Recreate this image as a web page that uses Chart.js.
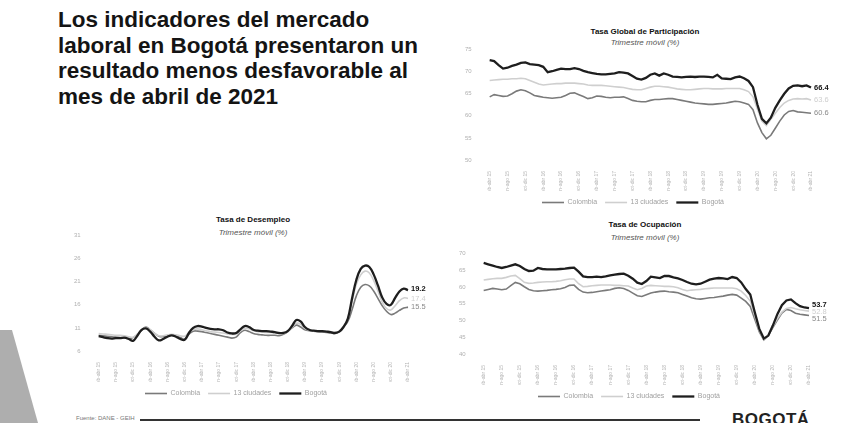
<!DOCTYPE html>
<html lang="es">
<head>
<meta charset="utf-8">
<title>Mercado laboral Bogotá</title>
<script src="https://cdn.jsdelivr.net/npm/chart.js@4.4.1/dist/chart.umd.min.js"></script>
<style>
  html, body { margin: 0; padding: 0; background: #fff; }
  #page { position: relative; width: 841px; height: 423px; overflow: hidden; background: #fff;
          font-family: "Liberation Sans", Arial, sans-serif; }
  #headline { position: absolute; left: 58px; top: 7px; font-size: 22.5px; font-weight: bold;
              line-height: 25.7px; color: #141414; }
  .ctitle { position: absolute; width: 300px; text-align: center; font-size: 8px; font-weight: bold; color: #111; }
  .csub { position: absolute; width: 300px; text-align: center; font-size: 8px; font-style: italic; color: #555; }
  canvas { position: absolute; }
  #band { position: absolute; left: 0; top: 330px; width: 40px; height: 93px; background: #9a9a9a;
          clip-path: polygon(0 0, 12px 0, 38px 93px, 0 93px); opacity: 0.8; }
  #footline { position: absolute; left: 140px; top: 419px; width: 560px; height: 2px; background: #333; }
  #source { position: absolute; left: 76px; top: 415px; font-size: 6px; color: #777; }
  #logo { position: absolute; left: 732px; top: 410px; font-size: 17px; font-weight: bold; color: #222; letter-spacing: 0.5px; }
</style>
</head>
<body>
<div id="page">
  <div id="headline">Los indicadores del mercado<br>laboral en Bogotá presentaron un<br>resultado menos desfavorable al<br>mes de abril de 2021</div>

  <div class="ctitle" style="left:495px; top:27px;">Tasa Global de Participación</div>
  <div class="csub" style="left:495px; top:38px;">Trimestre móvil (%)</div>
  <canvas id="chartTGP" width="386" height="180" style="left:455px; top:36px;"></canvas>

  <div class="ctitle" style="left:103px; top:215px;">Tasa de Desempleo</div>
  <div class="csub" style="left:103px; top:228px;">Trimestre móvil (%)</div>
  <canvas id="chartTD" width="372" height="185" style="left:64px; top:222px;"></canvas>

  <div class="ctitle" style="left:495px; top:220px;">Tasa de Ocupación</div>
  <div class="csub" style="left:495px; top:233px;">Trimestre móvil (%)</div>
  <canvas id="chartTO" width="392" height="170" style="left:449px; top:240px;"></canvas>

  <div id="band"></div>
  <div id="source">Fuente: DANE - GEIH</div>
  <div id="footline"></div>
  <div id="logo">BOGOTÁ</div>
</div>

<script>
// Trimestres móviles, feb-abr 2015 ... feb-abr 2021
const trimestres = [
  'feb-abr 15','mar-may 15','abr-jun 15','may-jul 15','jun-ago 15','jul-sep 15','ago-oct 15','sep-nov 15','oct-dic 15','nov-ene 16','dic-feb 16','ene-mar 16',
  'feb-abr 16','mar-may 16','abr-jun 16','may-jul 16','jun-ago 16','jul-sep 16','ago-oct 16','sep-nov 16','oct-dic 16','nov-ene 17','dic-feb 17','ene-mar 17',
  'feb-abr 17','mar-may 17','abr-jun 17','may-jul 17','jun-ago 17','jul-sep 17','ago-oct 17','sep-nov 17','oct-dic 17','nov-ene 18','dic-feb 18','ene-mar 18',
  'feb-abr 18','mar-may 18','abr-jun 18','may-jul 18','jun-ago 18','jul-sep 18','ago-oct 18','sep-nov 18','oct-dic 18','nov-ene 19','dic-feb 19','ene-mar 19',
  'feb-abr 19','mar-may 19','abr-jun 19','may-jul 19','jun-ago 19','jul-sep 19','ago-oct 19','sep-nov 19','oct-dic 19','nov-ene 20','dic-feb 20','ene-mar 20',
  'feb-abr 20','mar-may 20','abr-jun 20','may-jul 20','jun-ago 20','jul-sep 20','ago-oct 20','sep-nov 20','oct-dic 20','nov-ene 21','dic-feb 21','ene-mar 21',
  'feb-abr 21'
];
const seriesNames = ['Colombia', '13 ciudades', 'Bogotá'];

// Tasa Global de Participación (%)
const tgpColombia = [
  64.3,64.8,64.6,64.4,64.5,65.0,65.6,65.9,65.7,65.2,64.6,64.4,
  64.2,64.1,64.0,64.1,64.2,64.6,65.1,65.2,64.8,64.4,63.9,64.1,
  64.5,64.4,64.2,64.1,64.2,64.2,64.3,63.9,63.5,63.3,63.2,63.2,
  63.5,63.7,63.7,63.8,63.9,63.9,63.7,63.5,63.3,63.1,62.9,62.8,
  62.7,62.6,62.6,62.7,62.8,62.9,63.1,63.3,63.2,62.9,62.6,61.4,
  58.4,56.2,54.8,55.6,57.2,58.8,60.2,61.0,61.2,60.9,60.8,60.7,
  60.6
];
const tgp13Ciudades = [
  68.0,68.1,68.2,68.3,68.3,68.4,68.4,68.5,68.4,68.0,67.6,67.2,
  67.0,67.1,67.2,67.3,67.3,67.4,67.4,67.4,67.3,67.2,67.0,66.9,
  66.9,66.9,66.8,66.7,66.6,66.5,66.4,66.2,66.0,65.9,65.9,66.2,
  66.5,66.7,66.7,66.6,66.5,66.3,66.1,66.0,65.9,65.9,66.0,66.1,
  66.2,66.2,66.1,66.1,66.1,66.2,66.2,66.2,66.2,65.9,65.5,64.3,
  61.5,58.8,57.8,59.2,60.6,61.9,62.9,63.5,63.8,63.9,63.8,63.9,
  63.6
];
const tgpBogota = [
  72.6,72.4,71.5,70.7,70.9,71.3,71.6,72.0,72.1,71.7,71.6,71.5,
  71.1,69.9,70.1,70.4,70.7,70.6,70.6,70.8,70.6,70.2,69.9,69.7,
  69.5,69.4,69.4,69.5,69.6,69.9,69.8,69.6,69.0,68.4,68.2,68.6,
  69.3,69.6,69.1,69.6,69.3,68.9,68.8,68.7,68.8,68.9,68.8,68.9,
  68.9,68.8,68.7,69.3,68.5,68.4,68.3,68.7,68.9,68.5,67.9,66.5,
  62.5,59.3,58.3,59.6,61.8,63.5,65.0,66.2,66.8,66.9,66.7,66.9,
  66.4
];

// Tasa de Desempleo (%)
const tdColombia = [
  9.4,9.3,9.2,9.1,9.0,8.9,8.8,8.7,8.9,9.6,10.5,11.2,
  10.6,9.8,9.2,9.1,9.3,9.4,9.2,8.9,8.6,9.6,10.3,10.3,
  10.2,10.0,9.8,9.6,9.4,9.2,9.0,8.8,9.0,10.0,10.5,10.2,
  9.8,9.6,9.5,9.4,9.4,9.4,9.3,9.6,10.2,11.0,11.6,11.2,
  10.6,10.4,10.3,10.2,10.1,10.0,9.9,9.8,10.2,11.2,12.4,15.0,
  18.0,19.8,20.4,20.1,19.0,17.4,15.8,14.6,13.9,14.2,14.8,15.3,
  15.5
];
const td13Ciudades = [
  9.8,9.7,9.6,9.5,9.4,9.4,9.3,9.1,9.0,9.6,10.6,11.1,
  10.6,9.8,9.3,9.3,9.5,9.6,9.5,9.3,9.2,10.0,10.6,10.8,
  10.6,10.4,10.2,10.1,10.0,9.9,9.7,9.6,9.7,10.4,10.9,10.8,
  10.4,10.2,10.1,10.0,10.0,9.9,9.8,9.8,10.2,11.1,12.0,11.8,
  10.9,10.5,10.3,10.3,10.3,10.2,10.1,10.0,10.3,11.3,13.0,16.8,
  20.5,22.5,23.3,22.9,21.3,19.0,16.6,15.2,14.9,15.8,16.9,17.5,
  17.4
];
const tdBogota = [
  9.2,9.0,8.8,8.7,8.8,8.8,8.9,8.6,8.2,9.3,10.6,10.9,
  10.2,9.1,8.3,8.6,9.1,9.4,9.1,8.6,8.4,9.9,11.0,11.4,
  11.3,11.0,10.8,10.7,10.7,10.5,10.0,9.8,9.9,10.7,11.4,11.2,
  10.6,10.4,10.3,10.3,10.2,10.1,9.9,9.9,10.3,11.4,12.7,12.4,
  11.2,10.6,10.4,10.3,10.3,10.2,10.1,9.9,10.2,11.2,13.0,17.5,
  21.5,23.8,24.5,24.2,22.6,20.2,17.6,16.2,16.0,17.5,18.9,19.5,
  19.2
];

// Tasa de Ocupación (%)
const toColombia = [
  59.0,59.3,59.6,59.4,59.2,59.4,60.4,61.4,61.0,60.1,59.3,58.9,
  58.8,58.9,59.0,59.2,59.3,59.5,59.9,60.5,60.6,59.3,58.5,58.3,
  58.4,58.6,58.8,59.0,59.2,59.6,59.8,59.6,59.0,58.2,57.4,57.2,
  57.7,58.2,58.5,58.7,58.8,58.6,58.5,58.3,57.8,57.3,56.8,56.5,
  56.4,56.6,56.8,56.9,57.1,57.3,57.6,57.8,57.6,56.7,55.7,54.2,
  50.4,46.6,44.2,45.5,47.9,50.1,52.2,53.3,53.0,52.2,51.9,51.7,
  51.5
];
const to13Ciudades = [
  62.1,62.3,62.5,62.6,62.6,62.9,63.3,63.5,62.5,61.4,61.1,61.2,
  61.4,61.5,61.6,61.6,61.7,61.9,62.2,62.4,62.4,61.0,60.1,60.2,
  60.4,60.5,60.6,60.6,60.6,60.5,60.5,60.4,60.3,59.7,59.2,59.6,
  60.3,60.5,60.4,60.3,60.2,60.2,60.1,59.8,59.3,58.9,59.1,59.2,
  59.3,59.5,59.6,59.7,59.7,59.7,59.7,59.7,59.5,58.8,57.5,55.8,
  51.5,47.0,44.3,45.6,48.2,50.6,52.5,53.6,53.9,53.5,53.2,53.0,
  52.8
];
const toBogota = [
  67.2,66.8,66.4,66.0,65.7,66.0,66.4,66.8,66.3,65.4,64.8,64.9,
  65.7,65.4,65.3,65.3,65.3,65.4,65.5,65.7,65.8,64.6,63.2,63.0,
  63.0,63.1,63.0,63.2,63.5,63.7,63.9,64.0,63.4,62.5,61.3,60.9,
  61.8,63.1,62.9,62.7,63.3,63.3,62.9,62.6,62.1,61.5,61.0,60.8,
  61.0,61.6,62.2,62.5,62.7,62.6,62.4,63.0,62.7,61.4,59.4,57.8,
  52.5,47.5,44.6,45.5,48.5,51.9,54.6,56.0,56.3,55.2,54.3,53.9,
  53.7
];

// draws the last value to the right of each line
const endLabels = {
  id: 'endLabels',
  afterDatasetsDraw(chart) {
    const ctx = chart.ctx;
    ctx.save();
    chart.data.datasets.forEach((ds, i) => {
      const meta = chart.getDatasetMeta(i);
      const pt = meta.data[meta.data.length - 1];
      if (!pt) return;
      ctx.font = (ds.labelBold ? 'bold ' : '') + ds.labelSize + 'px "Liberation Sans", Arial, sans-serif';
      ctx.fillStyle = ds.labelColor;
      ctx.textBaseline = 'middle';
      ctx.fillText(ds.data[ds.data.length - 1].toFixed(1), pt.x + 3, pt.y + (ds.labelShift || 0));
    });
    ctx.restore();
  }
};

function makeChart(id, values, yMin, yMax, tension, padRight, labelShifts) {
  const colors = ['#7a7a7a', '#cfcfcf', '#1e1e1e'];
  const widths = [1.6, 1.6, 2.3];
  const datasets = values.map((v, i) => ({
    label: seriesNames[i],
    data: v,
    borderColor: colors[i],
    backgroundColor: colors[i],
    borderWidth: widths[i],
    pointRadius: 0,
    tension: tension,
    order: 2 - i,
    labelColor: i === 2 ? '#111' : (i === 1 ? '#cfcfcf' : '#8a8a8a'),
    labelBold: i === 2,
    labelSize: 7.5,
    labelShift: labelShifts[i]
  }));
  return new Chart(document.getElementById(id), {
    type: 'line',
    data: { labels: trimestres, datasets: datasets },
    options: {
      responsive: false,
      animation: false,
      layout: { padding: { top: 0, right: padRight, left: 0, bottom: 0 } },
      plugins: {
        title: { display: false },
        tooltip: { enabled: false },
        legend: {
          position: 'bottom',
          labels: {
            usePointStyle: true,
            pointStyle: 'line',
            pointStyleWidth: 22,
            boxHeight: 2,
            padding: 8,
            color: '#a0a0a0',
            font: { family: '"Liberation Sans", Arial, sans-serif', size: 7 },
            sort: (a, b) => a.datasetIndex - b.datasetIndex
          }
        }
      },
      scales: {
        x: {
          grid: { display: false },
          border: { display: false },
          afterFit: (scale) => { scale.height = 31; },
          ticks: {
            autoSkip: false,
            maxRotation: 90,
            minRotation: 90,
            color: '#b5b5b5',
            font: { family: '"Liberation Sans", Arial, sans-serif', size: 5 },
            callback: function (val, index) {
              return index % 4 === 0 ? this.getLabelForValue(val) : null;
            }
          }
        },
        y: {
          min: yMin,
          max: yMax,
          grid: { display: false },
          border: { display: false },
          ticks: {
            stepSize: 5,
            color: '#b0b0b0',
            padding: 10,
            font: { family: '"Liberation Sans", Arial, sans-serif', size: 6 }
          }
        }
      }
    },
    plugins: [endLabels]
  });
}

makeChart('chartTGP', [tgpColombia, tgp13Ciudades, tgpBogota], 50, 75, 0, 30, [0, 0, 0]);
makeChart('chartTD', [tdColombia, td13Ciudades, tdBogota], 6, 31, 0.4, 28, [0, 1, -1]);
makeChart('chartTO', [toColombia, to13Ciudades, toBogota], 40, 70, 0, 32, [3, 1, -3]);
</script>
</body>
</html>
